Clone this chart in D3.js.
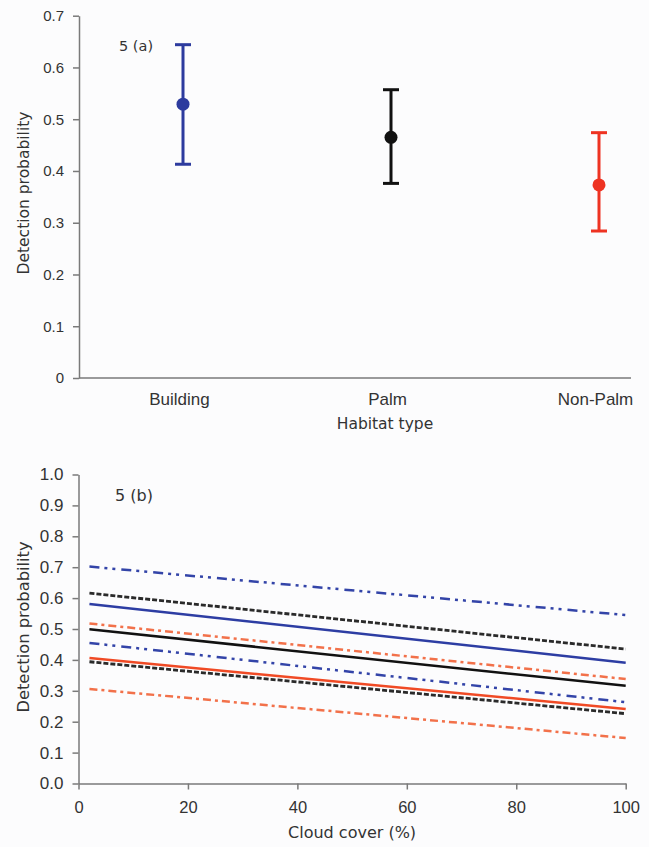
<!DOCTYPE html>
<html>
<head>
<meta charset="utf-8">
<script src="https://cdn.jsdelivr.net/npm/d3@7"></script>
<style>
  body { margin: 0; background: #fcfcfd; }
  svg { display: block; font-family: "DejaVu Sans", sans-serif; }
  .axis path, .axis line { stroke: #7a7a7a; stroke-width: 1.5; }
  .axis text { fill: #333333; }
</style>
</head>
<body>
<div id="graph"></div>
<script>
// Panel (a): detection probability per habitat type
var habitats = ["Building", "Palm", "Non-Palm"];
var habitatMean = [0.529, 0.465, 0.373];
var habitatLower = [0.413, 0.376, 0.284];
var habitatUpper = [0.644, 0.557, 0.474];
var habitatColors = ["#2d3b9e", "#111111", "#ee3322"];
var topTicks = [0, 0.1, 0.2, 0.3, 0.4, 0.5, 0.6, 0.7];

// Panel (b): detection probability vs cloud cover (start and end of each line)
var cloudCover = [2, 100];
var buildingMean = [0.581, 0.391];
var buildingLower = [0.455, 0.263];
var buildingUpper = [0.702, 0.545];
var palmMean = [0.499, 0.316];
var palmLower = [0.394, 0.226];
var palmUpper = [0.616, 0.435];
var nonPalmMean = [0.406, 0.241];
var nonPalmLower = [0.306, 0.147];
var nonPalmUpper = [0.518, 0.338];
var cloudTicks = [0, 20, 40, 60, 80, 100];
var bottomTicks = [0, 0.1, 0.2, 0.3, 0.4, 0.5, 0.6, 0.7, 0.8, 0.9, 1.0];

var largeur = 649, hauteur = 847;

var svg = d3.select("#graph").append("svg")
    .attr("width", largeur)
    .attr("height", hauteur);

svg.append("rect")
    .attr("width", largeur)
    .attr("height", hauteur)
    .attr("fill", "#fcfcfd");

// ---------- panel (a) ----------
var yTop = d3.scaleLinear().domain([0, 0.7]).range([378, 15.7]);
var xTop = d3.scalePoint().domain(habitats).range([183, 599]);

svg.append("g")
    .attr("class", "axis")
    .attr("transform", "translate(79,0)")
    .style("font-size", "15px")
  .call(d3.axisLeft(yTop).tickValues(topTicks).tickSize(6).tickSizeOuter(0).tickPadding(9)
    .tickFormat(function(d) { return d === 0 ? "0" : d3.format(".1f")(d); }));

// x axis line (no ticks)
svg.append("line")
    .attr("x1", 79).attr("x2", 631)
    .attr("y1", yTop(0)).attr("y2", yTop(0))
    .attr("stroke", "#7a7a7a")
    .attr("stroke-width", 1.5);

var axeXTop = svg.append("g")
    .attr("class", "axis")
    .attr("transform", "translate(-4," + yTop(0) + ")")
    .style("font-size", "17px")
  .call(d3.axisBottom(xTop).tickSize(0).tickPadding(15));
axeXTop.select(".domain").remove();

svg.append("text")
    .attr("x", 385).attr("y", 429)
    .attr("text-anchor", "middle")
    .style("font-size", "15.5px").attr("fill", "#333333")
    .text("Habitat type");

svg.append("text")
    .attr("transform", "translate(29,193) rotate(-90)")
    .attr("text-anchor", "middle")
    .style("font-size", "15.5px").attr("fill", "#333333")
    .text("Detection probability");

svg.append("text")
    .attr("x", 119).attr("y", 51)
    .style("font-size", "14.5px").attr("fill", "#333333")
    .text("5 (a)");

// error bars
var barres = svg.selectAll(".errbar")
  .data(habitats)
  .enter().append("g")
  .attr("class", "errbar");

barres.append("line")
    .attr("x1", function(d) { return xTop(d); })
    .attr("x2", function(d) { return xTop(d); })
    .attr("y1", function(d, i) { return yTop(habitatLower[i]); })
    .attr("y2", function(d, i) { return yTop(habitatUpper[i]); })
    .attr("stroke", function(d, i) { return habitatColors[i]; })
    .attr("stroke-width", 3);

[habitatLower, habitatUpper].forEach(function(bornes) {
  barres.append("line")
    .attr("x1", function(d) { return xTop(d) - 8; })
    .attr("x2", function(d) { return xTop(d) + 8; })
    .attr("y1", function(d, i) { return yTop(bornes[i]); })
    .attr("y2", function(d, i) { return yTop(bornes[i]); })
    .attr("stroke", function(d, i) { return habitatColors[i]; })
    .attr("stroke-width", 3);
});

barres.append("circle")
    .attr("cx", function(d) { return xTop(d); })
    .attr("cy", function(d, i) { return yTop(habitatMean[i]); })
    .attr("r", 6.5)
    .attr("fill", function(d, i) { return habitatColors[i]; });

// ---------- panel (b) ----------
var xBot = d3.scaleLinear().domain([0, 100]).range([78.5, 625.7]);
var yBot = d3.scaleLinear().domain([0, 1]).range([783.5, 474.5]);

svg.append("g")
    .attr("class", "axis")
    .attr("transform", "translate(78.5,0)")
    .style("font-size", "17px")
  .call(d3.axisLeft(yBot).tickValues(bottomTicks).tickSize(6).tickSizeOuter(0).tickPadding(9)
    .tickFormat(d3.format(".1f")));

svg.append("g")
    .attr("class", "axis")
    .attr("transform", "translate(0," + yBot(0) + ")")
    .style("font-size", "16.5px")
  .call(d3.axisBottom(xBot).tickValues(cloudTicks).tickSize(6).tickSizeOuter(0).tickPadding(12));

svg.append("text")
    .attr("x", xBot(50)).attr("y", 838)
    .attr("text-anchor", "middle")
    .style("font-size", "16px").attr("fill", "#333333")
    .text("Cloud cover (%)");

svg.append("text")
    .attr("transform", "translate(29,627) rotate(-90)")
    .attr("text-anchor", "middle")
    .style("font-size", "16.3px").attr("fill", "#333333")
    .text("Detection probability");

svg.append("text")
    .attr("x", 115).attr("y", 501)
    .style("font-size", "16px").attr("fill", "#333333")
    .text("5 (b)");

var series = [
  { vals: buildingUpper, color: "#3344a8", dash: "10,5,3,5,3,6", w: 2.5 },
  { vals: palmUpper, color: "#2a2a2a", dash: "5,2", w: 2.8 },
  { vals: buildingMean, color: "#2d3da3", dash: null, w: 2.5 },
  { vals: nonPalmUpper, color: "#f2714a", dash: "8,4,3,4", w: 2.5 },
  { vals: palmMean, color: "#111111", dash: null, w: 2.5 },
  { vals: buildingLower, color: "#3344a8", dash: "10,5,3,5,3,6", w: 2.5 },
  { vals: nonPalmMean, color: "#f04a25", dash: null, w: 2.5 },
  { vals: palmLower, color: "#2a2a2a", dash: "5,2", w: 2.8 },
  { vals: nonPalmLower, color: "#f2714a", dash: "8,4,3,4", w: 2.5 }
];

var ligne = d3.line()
    .x(function(d) { return xBot(d[0]); })
    .y(function(d) { return yBot(d[1]); });

svg.selectAll(".trend")
  .data(series)
  .enter().append("path")
  .attr("class", "trend")
  .attr("d", function(s) { return ligne(d3.zip(cloudCover, s.vals)); })
  .attr("fill", "none")
  .attr("stroke", function(s) { return s.color; })
  .attr("stroke-width", function(s) { return s.w; })
  .attr("stroke-dasharray", function(s) { return s.dash; });
</script>
</body>
</html>
